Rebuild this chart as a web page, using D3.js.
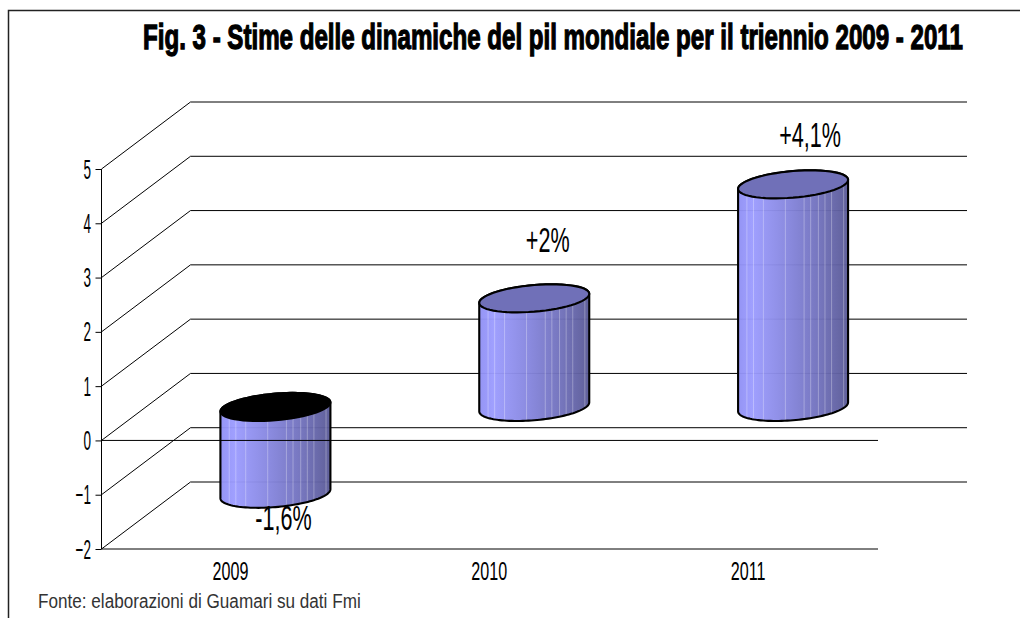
<!DOCTYPE html>
<html><head><meta charset="utf-8">
<script src="https://cdn.jsdelivr.net/npm/d3@7"></script>
<style>html,body{margin:0;padding:0;background:#fff}svg{display:block}text{font-family:"Liberation Sans",Arial,sans-serif}</style>
</head><body><svg id="c" width="1020" height="618"></svg>
<script>
const titleText = "Fig. 3 - Stime delle dinamiche del pil mondiale per il triennio 2009 - 2011";
const sourceText = "Fonte: elaborazioni di Guamari su dati Fmi";
const categories = ["2009","2010","2011"];
const values = [-1.6,2,4.1];
const valueLabels = ["-1,6%","+2%","+4,1%"];
const yTicks = [-2,-1,0,1,2,3,4,5];
const topFills = ["#000000","#7070b8","#7070b8"];

const svg = d3.select("#c");
const depth = {dx:89, dy:-67};
const y = d3.scaleLinear().domain([-2,5]).range([549,169]);
const x = d3.scaleBand().domain(categories).range([101.5,878]);
const barW = 110;

// frame
svg.append("path").attr("d","M8.5,618V10.5H1020").attr("fill","none").attr("stroke","#222").attr("stroke-width",1.5);

// back wall and side wall
const grid = svg.append("g").attr("fill","none").attr("stroke","#000").attr("stroke-width",1);
grid.selectAll("path").data(yTicks).join("path")
  .attr("d",v=>`M${x.range()[0]},${y(v)}L${x.range()[0]+depth.dx},${y(v)+depth.dy}H${x.range()[1]+depth.dx}`);

// front floor line
svg.append("line").attr("x1",x.range()[0]).attr("x2",x.range()[1]).attr("y1",y(-2)).attr("y2",y(-2)).attr("stroke","#000");

// gradient
const defs = svg.append("defs");
const gr = defs.append("linearGradient").attr("id","cyl");
[[0,"#9090f4"],[0.13,"#9c9cff"],[0.45,"#8686de"],[0.75,"#7070ba"],[1,"#5a5a96"]]
  .forEach(s=>gr.append("stop").attr("offset",s[0]).attr("stop-color",s[1]));
const stripes = [0.08,0.14,0.23,0.43,0.6,0.66,0.73,0.79,0.85,0.96];

const tilt = 0.082, ry = 13.3;
function ell(cx,cy,from,to){
  return d3.range(0,61).map(i=>{
    const t = from+(to-from)*i/60, ex = barW/2*Math.cos(t);
    return [cx+ex, cy - tilt*ex + ry*Math.sin(t)];
  });
}
const line = d3.line();
const bars = svg.append("g");
categories.forEach((c,i)=>{
  const cx = x(c)+x.bandwidth()/2+depth.dx/2;
  const base = y(0)+depth.dy/2, top = y(values[i])+depth.dy/2;
  const a = Math.min(base,top), b = Math.max(base,top);
  const topFront = ell(cx,a,Math.PI,0);
  const botFront = ell(cx,b,0,Math.PI);
  const g = bars.append("g");
  const body = line(topFront.concat(botFront))+"Z";
  const outer = line(ell(cx,a,Math.PI,2*Math.PI).concat(botFront))+"Z";
  const cid = "clip"+i;
  defs.append("clipPath").attr("id",cid).append("path").attr("d",body);
  g.append("path").attr("d",body).attr("fill","url(#cyl)").attr("fill-opacity",0.96);
  g.append("g").attr("clip-path",`url(#${cid})`).selectAll("line").data(stripes).join("line")
    .attr("x1",s=>cx-barW/2+s*barW).attr("x2",s=>cx-barW/2+s*barW)
    .attr("y1",a-30).attr("y2",b+30).attr("stroke","#fff").attr("stroke-opacity",0.3).attr("stroke-width",1);
  g.append("path").attr("d",outer).attr("fill","none").attr("stroke","#000").attr("stroke-width",2.1);
  g.append("path").attr("d",line(ell(cx,a,0,2*Math.PI))+"Z").attr("fill",topFills[i]).attr("stroke","#000").attr("stroke-width",2.1);
});

// zero line drawn above the bars
svg.append("line").attr("x1",x.range()[0]).attr("x2",x.range()[1]).attr("y1",y(0)).attr("y2",y(0)).attr("stroke","#000").attr("stroke-width",1);

// axis
const yAxis = d3.axisLeft(y).tickValues(yTicks).tickSize(6).tickFormat(d3.format("d"));
const ax = svg.append("g").attr("transform",`translate(${x.range()[0]},0)`).call(yAxis);
ax.selectAll("path.domain").attr("stroke","#000").attr("d",`M0,${y(5)}V${y(-2)}`);
ax.selectAll(".tick line").attr("stroke","#000");
ax.selectAll(".tick text").remove();

function narrow(sel,px,py,txt,size,sx,anchor){
  return sel.append("text").attr("transform",`translate(${px},${py}) scale(${sx},1)`)
    .attr("text-anchor",anchor).attr("font-size",size).attr("fill","#000").text(txt);
}
yTicks.forEach(v=>narrow(svg,91,y(v)+9.5,d3.format("d")(v),27,0.5,"end"));
categories.forEach(c=>narrow(svg,x(c)+x.bandwidth()/2-0.5,580,c,26,0.62,"middle"));

values.forEach((v,i)=>{
  const cx = x(categories[i])+x.bandwidth()/2+depth.dx/2;
  const py = v<0 ? y(v)+depth.dy/2+36 : y(v)+depth.dy/2-(v<3?46:37);
  narrow(svg,cx+(i===0?8:(i===1?13.5:17)),py,valueLabels[i],36,0.6,"middle");
});

// fit a text to a target width by horizontal scaling
function fitted(px,py,txt,size,w,weight,fill,stroke){
  const t = svg.append("text").attr("font-size",size).attr("font-weight",weight).attr("fill",fill).text(txt);
  const sx = w/t.node().getComputedTextLength();
  t.attr("transform",`translate(${px},${py}) scale(${sx},1)`);
  if(stroke) t.attr("stroke",fill).attr("stroke-width",stroke);
}
fitted(143,49,titleText,35,820,"bold","#000",1.3);
fitted(38,608,sourceText,20,323,"normal","#333");
</script></body></html>
